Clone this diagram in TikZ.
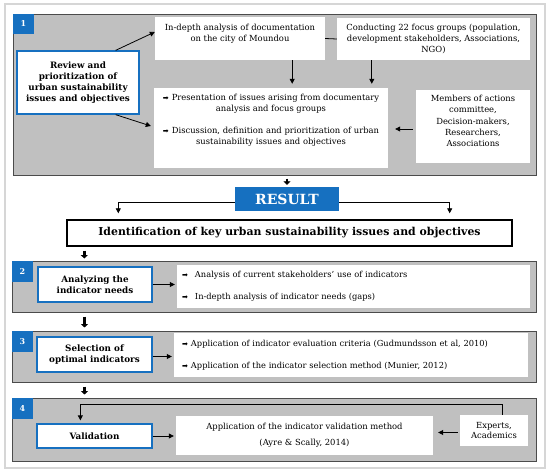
\documentclass[tikz,border=0pt]{standalone}
\usepackage{fontspec}
\setmainfont{DejaVu Serif}
\newfontfamily\symf{DejaVu Sans}
\usetikzlibrary{arrows.meta,calc}
\definecolor{bblue}{RGB}{22,112,192}
\definecolor{pgray}{RGB}{192,192,192}
\definecolor{pborder}{RGB}{75,75,75}
\definecolor{fgray}{RGB}{214,214,214}
\newcommand{\bul}[1]{\makebox[#1][l]{{\symf\fontsize{7}{7}\selectfont ➡}}}
\begin{document}
\begin{tikzpicture}[x=1pt,y=-1pt,
  panel/.style={draw=pborder,fill=pgray,line width=1pt,inner sep=0pt},
  numbox/.style={fill=bblue,text=white,inner sep=0pt,minimum width=21pt,minimum height=20pt,font=\bfseries\fontsize{8}{9}\selectfont},
  stepbox/.style={draw=bblue,fill=white,line width=1.3pt,inner sep=2pt,align=center,font=\bfseries\fontsize{8.8}{11}\selectfont},
  wbox/.style={fill=white,inner sep=2pt,align=center,font=\fontsize{8.4}{11.3}\selectfont},
  lbox/.style={fill=white,align=left,font=\fontsize{8.3}{11}\selectfont},
  arr/.style={-{Triangle[width=5pt,length=5pt]},line width=0.8pt},
  fat/.style={-{Triangle[width=7pt,length=3.5pt]},line width=2.6pt},
  con/.style={line width=0.8pt}]
\useasboundingbox (0,0) rectangle (550,471);
\fill[white] (0,0) rectangle (550,471);
\draw[fgray,line width=1.5pt] (5,4) rectangle (545,468);

% ---------- panel 1
\node[panel,minimum width=523pt,minimum height=161pt] (P1) at (274.5,94.5) {};
\node[numbox] (N1) at (23.5,24) {1};
\node[stepbox,minimum width=122pt,minimum height=63pt] (Rev) at (78,82.5)
  {Review and\\prioritization of\\urban sustainability\\issues and objectives};
\node[wbox,minimum width=170pt,minimum height=43pt,text depth=11pt] (Doc) at (240,38.5)
  {In-depth analysis of documentation\\on the city of Moundou};
\node[wbox,minimum width=193pt,minimum height=42pt] (Foc) at (433.5,39)
  {Conducting 22 focus groups (population,\\development stakeholders, Associations,\\NGO)};
\node[wbox,minimum width=234pt,minimum height=80pt] (Pre) at (271,128)
  {\bul{9pt}Presentation of issues arising from documentary\\analysis and focus groups\\[10pt]
   \bul{9pt}Discussion, definition and prioritization of urban\\sustainability issues and objectives\\[6pt]};
\node[wbox,minimum width=114pt,minimum height=73pt,text depth=11pt] (Mem) at (473,126.5)
  {Members of actions\\committee,\\Decision-makers,\\Researchers,\\Associations};

\draw[con] (Doc.east) -- (Foc.west);
\draw[arr] ($(Rev.north east)+(-24,0)$) -- ($(Doc.west)+(0,-6.5)$);
\draw[arr] ($(Rev.south east)+(-24,0)$) -- ($(Pre.west)+(-3,-2)$);
\draw[arr,shorten >=4pt] ($(Doc.south east)+(-33,0)$) coordinate (a1) -- (a1 |- Pre.north);
\draw[arr,shorten >=4pt] ($(Foc.south west)+(35,0)$) coordinate (a2) -- (a2 |- Pre.north);
\draw[arr,shorten <=3pt,shorten >=7pt] ($(Mem.west)+(0,2.5)$) coordinate (a3) -- (a3 -| Pre.east);

% ---------- result
\node[fill=bblue,text=white,inner sep=0pt,minimum width=104pt,minimum height=24pt,font=\bfseries\fontsize{14}{16}\selectfont] (Res) at (287,199) {RESULT};
\node[draw=black,fill=white,line width=1.4pt,inner sep=0pt,minimum width=445pt,minimum height=26pt,font=\bfseries\fontsize{10.9}{12}\selectfont] (Ide) at (289.5,233)
  {Identification of key urban sustainability issues and objectives};
\draw[fat,shorten <=3pt,shorten >=2pt] (P1.south -| Res.north) -- (Res.north);
\draw[arr] ($(Res.west)+(0,3)$) -| ($(Ide.north west)+(52,-6)$);
\draw[arr] ($(Res.east)+(0,3)$) -| ($(Ide.north east)+(-63,-6)$);

% ---------- panel 2
\node[panel,minimum width=524pt,minimum height=51pt] (P2) at (274,286.5) {};
\node[numbox,minimum height=21pt] (N2) at (22.5,271.5) {2};
\node[stepbox,minimum width=114pt,minimum height=35pt] (Ana) at (95,284.5)
  {Analyzing the\\indicator needs};
\node[lbox,minimum width=353pt,minimum height=43pt,text width=343pt,inner xsep=5pt] (B2) at (353.5,286.5)
  {\bul{13pt}Analysis of current stakeholders' use of indicators\\[11pt]
   \bul{13pt}In-depth analysis of indicator needs (gaps)};
\draw[arr,shorten >=2pt] (Ana.east) -- (Ana.east -| B2.west);
\draw[fat,shorten <=4pt,shorten >=2pt] ($(Ide.south west)+(18,0)$) coordinate (f1) -- (f1 |- P2.north);

% ---------- panel 3
\node[panel,minimum width=524pt,minimum height=51pt] (P3) at (274,356.5) {};
\node[numbox,minimum height=21pt] (N3) at (22.5,341.5) {3};
\node[stepbox,minimum width=115pt,minimum height=35pt] (Sel) at (94.5,354.5)
  {Selection of\\optimal indicators};
\node[lbox,minimum width=354pt,minimum height=44pt,text width=338pt,inner xsep=8pt] (B3) at (351,355)
  {\bul{9pt}Application of indicator evaluation criteria (Gudmundsson et al, 2010)\\[11pt]
   \bul{9pt}Application of the indicator selection method (Munier, 2012)};
\draw[arr,shorten >=2pt] ($(Sel.east)+(0,2)$) coordinate (a4) -- (a4 -| B3.west);
\draw[fat,shorten <=4pt,shorten >=3pt] ($(P2.south west)+(73,0)$) coordinate (f2) -- (f2 |- P3.north);

% ---------- panel 4
\node[panel,minimum width=524pt,minimum height=63pt] (P4) at (274,429.5) {};
\node[numbox,minimum height=21pt] (N4) at (22.5,408.5) {4};
\node[stepbox,minimum width=115pt,minimum height=24pt] (Val) at (94.5,436) {Validation};
\node[wbox,minimum width=257pt,minimum height=39pt] (App) at (304.5,435.5)
  {Application of the indicator validation method\\[5pt](Ayre \& Scally, 2014)};
\node[wbox,minimum width=68pt,minimum height=31pt,inner sep=1pt,font=\fontsize{8.4}{10.5}\selectfont] (Exp) at (494,430.5)
  {Experts,\\Academics};
\draw[arr,shorten >=2pt] (Val.east) -- (Val.east -| App.west);
\draw[arr,shorten <=2pt,shorten >=5pt] ($(Exp.west)+(0,2)$) coordinate (a5) -- (a5 -| App.east);
\draw[arr,shorten >=3pt] ($(Exp.north east)+(-26,0)$) |- ($(Val.north west)+(44,-19)$) -- ($(Val.north west)+(44,0)$);
\draw[fat,shorten <=4pt,shorten >=3pt] ($(P3.south west)+(73,0)$) coordinate (f3) -- (f3 |- P4.north);
\end{tikzpicture}
\end{document}
